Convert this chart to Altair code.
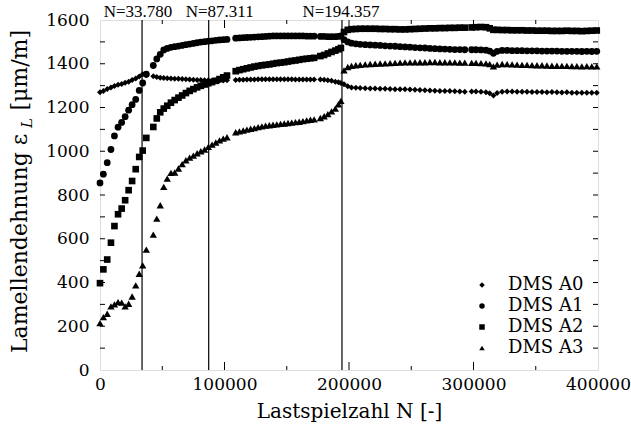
import altair as alt
import pandas as pd

# Lastspielzahl N (load cycles) at which the strain gauges were read
N = [0, 2700, 5800, 8800, 11600, 14500, 17400, 20200, 23000, 25800, 28700, 31500, 34300, 37200,
     42800, 45600, 48400, 51200, 54000, 57000, 60000,
     63000, 66000, 69000, 72000, 75000, 78000, 81000, 84000, 87000, 90000, 93000, 96000, 99000, 102000,
     109000, 112000, 115000, 118000, 121000, 124000, 127000, 130000, 133000, 136000, 139000, 142000,
     145000, 148000, 151000, 154000, 157000, 160000, 163000, 166000, 169000, 172000,
     177000, 180000, 183000, 186000, 189000, 191500, 193500,
     196000, 199000, 202000, 205500, 209000, 213000, 217000, 221000, 225000, 229000, 233000, 237000, 241000,
     245000, 249000, 253000, 257000, 261000, 265000, 269000, 273000, 277000, 281000, 285000, 289000, 293000,
     298500, 302000, 306000, 310000, 313000, 316000, 319000, 323000, 327000, 331000, 335000, 339000, 343000,
     347000, 351000, 355000, 359000, 363000, 367000, 371000, 375000, 379000, 383000, 387000, 391000, 395000, 399000]

A0 = [1270, 1276, 1285, 1292, 1298, 1304, 1308, 1313, 1318, 1326, 1333, 1342, 1352, 1348,
      1343, 1339, 1336, 1335, 1334, 1333, 1332,
      1331, 1330, 1329, 1328, 1327, 1326, 1326, 1325, 1325, 1324, 1324, 1323, 1324, 1325,
      1326, 1327, 1327, 1328, 1328, 1328, 1329, 1329, 1329, 1329, 1329, 1329,
      1329, 1329, 1329, 1329, 1328, 1328, 1328, 1328, 1328, 1328,
      1328, 1327, 1325, 1322, 1318, 1315, 1312,
      1306, 1297, 1292, 1290, 1289, 1288, 1287, 1287, 1286, 1286, 1285, 1284, 1284,
      1283, 1282, 1281, 1280, 1279, 1278, 1277, 1276, 1275, 1275, 1274, 1273, 1272,
      1273, 1273, 1272, 1270, 1265, 1255, 1266, 1272, 1273, 1273, 1272, 1272, 1272,
      1271, 1271, 1271, 1270, 1271, 1270, 1269, 1270, 1268, 1268, 1267, 1268, 1267, 1268]

A1 = [855, 895, 948, 1008, 1070, 1110, 1132, 1158, 1188, 1213, 1237, 1278, 1312, 1352,
      1392, 1422, 1443, 1463, 1470, 1475, 1478,
      1481, 1484, 1487, 1490, 1493, 1496, 1499, 1501, 1503, 1505, 1507, 1509, 1510, 1511,
      1517, 1518, 1519, 1520, 1521, 1522, 1523, 1524, 1525, 1526, 1527, 1527,
      1527, 1527, 1527, 1527, 1527, 1527, 1527, 1526, 1526, 1526,
      1525, 1525, 1524, 1524, 1524, 1525, 1527,
      1510, 1500, 1494, 1491, 1489, 1487, 1486, 1485, 1484, 1482, 1481, 1480, 1478,
      1477, 1476, 1474, 1473, 1472, 1470, 1469, 1468, 1467, 1466, 1465, 1465, 1464,
      1464, 1464, 1463, 1462, 1458, 1448, 1457, 1461, 1461, 1460, 1460, 1460, 1459,
      1459, 1459, 1458, 1458, 1458, 1458, 1457, 1457, 1457, 1457, 1456, 1457, 1456, 1457]

A2 = [397, 460, 505, 582, 658, 712, 738, 776, 822, 864, 918, 974, 1003, 1061,
      1111, 1150, 1178, 1195, 1208, 1222, 1234,
      1245, 1255, 1266, 1276, 1284, 1292, 1299, 1305, 1311, 1316, 1322, 1330, 1338, 1346,
      1366, 1371, 1375, 1379, 1383, 1387, 1390, 1393, 1395, 1397, 1400, 1403,
      1405, 1407, 1410, 1413, 1415, 1418, 1421, 1423, 1425, 1427,
      1435, 1440, 1447, 1454, 1460, 1466, 1472,
      1545, 1555, 1558, 1559, 1560, 1560, 1560, 1560, 1559, 1559, 1558, 1558, 1557,
      1557, 1558, 1559, 1560, 1561, 1562, 1562, 1563, 1563, 1564, 1564, 1565, 1565,
      1566, 1567, 1568, 1567, 1562, 1555, 1555, 1554, 1554, 1553, 1553, 1553, 1552,
      1552, 1551, 1551, 1551, 1550, 1550, 1550, 1551, 1550, 1550, 1549, 1550, 1551, 1552]

A3 = [214, 242, 257, 291, 300, 310, 308, 291, 303, 336, 387, 440, 478, 550,
      619, 692, 753, 837, 875, 901, 903,
      921, 941, 959, 971, 980, 991, 1000, 1008, 1020, 1030, 1040, 1050, 1058, 1064,
      1087, 1091, 1095, 1099, 1103, 1106, 1110, 1114, 1117, 1119, 1121, 1123,
      1125, 1127, 1129, 1131, 1133, 1135, 1138, 1141, 1144, 1146,
      1152, 1160, 1170, 1182, 1195, 1215, 1230,
      1370, 1385, 1390, 1393, 1395, 1397, 1399, 1400, 1401, 1402, 1403, 1404, 1405,
      1406, 1406, 1407, 1407, 1407, 1408, 1408, 1407, 1407, 1406, 1406, 1405, 1405,
      1404, 1404, 1403, 1402, 1398, 1388, 1396, 1399, 1398, 1397, 1396, 1395, 1395,
      1394, 1393, 1393, 1392, 1391, 1391, 1390, 1390, 1389, 1389, 1388, 1389, 1388, 1388]

series_names = ["DMS A0", "DMS A1", "DMS A2", "DMS A3"]
series_values = [A0, A1, A2, A3]
shapes = ["diamond", "circle", "square", "triangle-up"]
sizes = [36, 46, 44, 54]

event_N = [33780, 87311, 194357]
event_labels = ["N=33.780", "N=87.311", "N=194.357"]

x_tick_labels = [0, 100000, 200000, 300000, 400000]
x_major_ticks = [100000, 200000, 300000]
x_minor_ticks = [50000, 150000, 250000, 350000]
y_tick_labels = [0, 200, 400, 600, 800, 1000, 1200, 1400, 1600]
y_ticks = [100, 200, 300, 400, 500, 600, 700, 800, 900, 1000, 1100, 1200, 1300, 1400, 1500]

W, H = 498, 350
FONT = "DejaVu Serif"

xs = alt.Scale(domain=[0, 400000], nice=False, zero=False)
ys = alt.Scale(domain=[0, 1600], nice=False, zero=False)
shape_scale = alt.Scale(domain=series_names, range=shapes)

x_axis = alt.Axis(values=x_tick_labels, format="d", labelFont=FONT, labelFontSize=17,
                  labelColor="black", ticks=False, domain=False, grid=False,
                  labelPadding=6, labelFlush=False, labelOverlap=False,
                  title="Lastspielzahl N [-]", titleFont=FONT, titleFontSize=20,
                  titleFontWeight="normal", titleColor="black", titlePadding=9)
y_axis = alt.Axis(values=y_tick_labels, format="d", labelFont=FONT, labelFontSize=17,
                  labelColor="black", ticks=False, domain=False, grid=False,
                  labelPadding=11, labelFlush=False, labelOverlap=False, title=None)
legend = alt.Legend(title=None, orient="none", legendX=373, legendY=256,
                    labelFont=FONT, labelFontSize=18, labelColor="black",
                    symbolSize=30, symbolFillColor="black", symbolStrokeColor="black",
                    symbolStrokeWidth=0, labelOffset=17, rowPadding=3)

point_layers = []
for name, vals, sz in zip(series_names, series_values, sizes):
    d = pd.DataFrame({"N": N, "eps": vals, "series": name})
    point_layers.append(
        alt.Chart(d).mark_point(filled=True, opacity=1, color="black", strokeWidth=0, size=sz).encode(
            x=alt.X("N:Q", scale=xs, axis=x_axis),
            y=alt.Y("eps:Q", scale=ys, axis=y_axis),
            shape=alt.Shape("series:N", scale=shape_scale, legend=legend),
        ))

ev = pd.DataFrame({"N": event_N, "label": event_labels})
rules = alt.Chart(ev).mark_rule(color="black", strokeWidth=1.2).encode(
    x=alt.X("N:Q", scale=xs, axis=x_axis), y=alt.value(0), y2=alt.value(H))

label_layers = []
for i, dx in enumerate([-4, 11, -1]):
    label_layers.append(
        alt.Chart(ev.iloc[[i]]).mark_text(font="Liberation Serif", fontSize=17, color="black",
                                          baseline="alphabetic", align="center", dx=dx).encode(
            x=alt.X("N:Q", scale=xs), y=alt.value(-3), text="label:N"))

# inward axis ticks on all four sides
xmaj = pd.DataFrame({"t": x_major_ticks})
xmin = pd.DataFrame({"t": x_minor_ticks})
ytk = pd.DataFrame({"t": y_ticks})
tick_layers = [
    alt.Chart(xmaj).mark_rule(color="black", strokeWidth=1).encode(x=alt.X("t:Q", scale=xs), y=alt.value(H), y2=alt.value(H - 8)),
    alt.Chart(xmaj).mark_rule(color="black", strokeWidth=1).encode(x=alt.X("t:Q", scale=xs), y=alt.value(0), y2=alt.value(8)),
    alt.Chart(xmin).mark_rule(color="black", strokeWidth=1).encode(x=alt.X("t:Q", scale=xs), y=alt.value(H), y2=alt.value(H - 4)),
    alt.Chart(xmin).mark_rule(color="black", strokeWidth=1).encode(x=alt.X("t:Q", scale=xs), y=alt.value(0), y2=alt.value(4)),
    alt.Chart(ytk).mark_rule(color="black", strokeWidth=1).encode(y=alt.Y("t:Q", scale=ys), x=alt.value(0), x2=alt.value(5)),
    alt.Chart(ytk).mark_rule(color="black", strokeWidth=1).encode(y=alt.Y("t:Q", scale=ys), x=alt.value(W), x2=alt.value(W - 5)),
]

# y-axis title built from pieces (subscript L)
ytitle = pd.DataFrame({"a": ["Lamellendehnung ε"], "b": ["L"], "c": ["[μm/m]"]})
yt1 = alt.Chart(ytitle).mark_text(font=FONT, fontSize=22, angle=270, align="left", baseline="middle", color="black").encode(
    x=alt.value(-80), y=alt.value(333), text="a:N")
yt2 = alt.Chart(ytitle).mark_text(font=FONT, fontSize=15, fontStyle="italic", angle=270, align="center", baseline="middle", color="black").encode(
    x=alt.value(-73), y=alt.value(103), text="b:N")
yt3 = alt.Chart(ytitle).mark_text(font=FONT, fontSize=22, angle=270, align="right", baseline="middle", color="black").encode(
    x=alt.value(-80), y=alt.value(10), text="c:N")

chart = alt.layer(rules, *tick_layers, *point_layers, *label_layers, yt1, yt2, yt3).properties(
    width=W, height=H,
    autosize=alt.AutoSizeParams(type="none"),
    padding={"left": 100, "top": 20, "right": 33, "bottom": 66},
).configure_view(stroke="black", strokeWidth=1.2).configure(background="white")

chart.save("out.html", embed_options={"renderer": "svg", "actions": False})
